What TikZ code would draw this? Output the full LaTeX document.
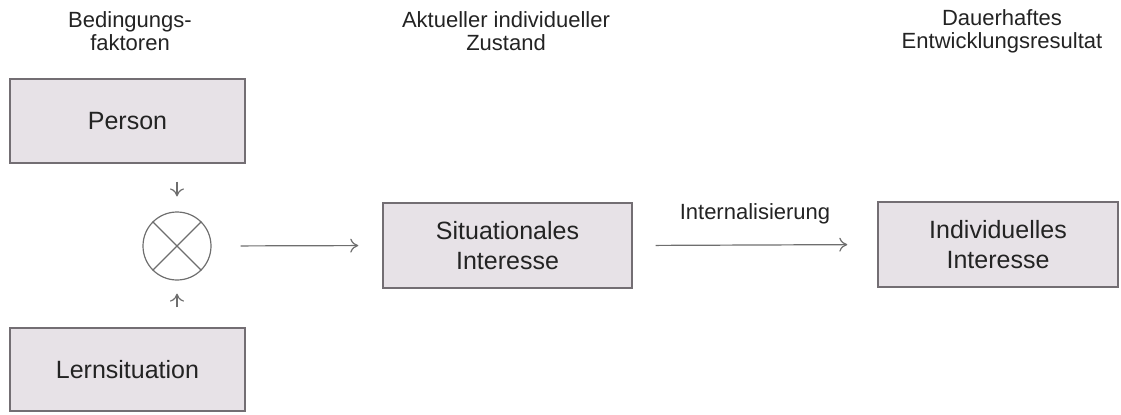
\documentclass[tikz,border=0pt]{standalone}
\usepackage{fontspec}
\setmainfont{Liberation Sans}
\usepackage{tikz}
\usetikzlibrary{positioning,arrows.meta}

\definecolor{boxfill}{RGB}{231,226,231}
\definecolor{boxline}{RGB}{115,110,115}
\definecolor{txt}{RGB}{35,35,35}
\definecolor{arr}{RGB}{110,110,110}

\begin{document}
\begin{tikzpicture}[ x=0.5pt , y=-0.5pt , text=txt ,
  box/.style={ draw=boxline , fill=boxfill , line width=0.7pt , align=center ,
    font=\fontsize{12.5}{15}\selectfont , inner sep=0pt },
  head/.style={ align=center , font=\fontsize{11}{11.5}\selectfont },
  pfeil/.style={ -{To[length=4pt,width=7pt]}, draw=arr , line width=0.6pt } ]
\useasboundingbox (0,0) rectangle (1121,414);

% Spaltenkoepfe
\node [ head ] (h_1) at (130,31) {Bedingungs-\\faktoren};
\node [ head ] (h_2) at (506,31) {Aktueller individueller\\Zustand};
\node [ head ] (h_3) at (1002,31) {Dauerhaftes\\Entwicklungsresultat};

% Kaesten
\node [ box , minimum width=117.5pt , minimum height=42pt ] (person) at (127.5,121) {Person};
\node [ box , minimum width=117.5pt , minimum height=41.5pt ] (lern) at (127.5,369.5) {Lernsituation};
\node [ box , minimum width=124.5pt , minimum height=42.5pt ] (sit) at (507.5,245.5) {Situationales\\Interesse};
\node [ box , minimum width=120pt , minimum height=42.5pt ] (ind) at (998,244.5) {Individuelles\\Interesse};

% Verknuepfung
\node [ draw=arr , circle , line width=0.6pt , minimum size=34pt , inner sep=0pt ] (x) at (177,246) {};
\draw [ draw=arr , line width=0.6pt ] (x.north west) -- (x.south east) (x.north east) -- (x.south west);

\path
(x.north |- person.south) edge [ pfeil , shorten <=9pt , shorten >=7.5pt ] (x.north)
(x.south |- lern.north) edge [ pfeil , shorten <=10pt , shorten >=6.5pt ] (x.south)
(x.east) edge [ pfeil , shorten <=14.5pt , shorten >=12pt ] (sit.west)
(sit.east) edge [ pfeil , shorten <=11.5pt , shorten >=15pt ] node [ above=7pt , font=\fontsize{11}{13}\selectfont ] {Internalisierung} (ind.west);
\end{tikzpicture}
\end{document}
